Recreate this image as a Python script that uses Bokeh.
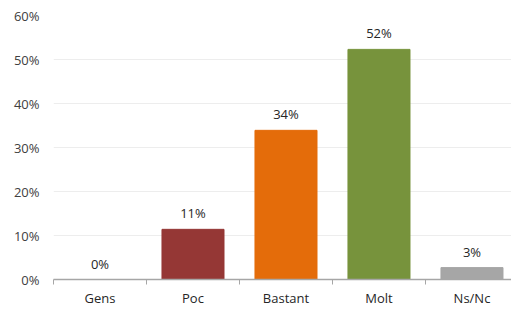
from bokeh.plotting import figure
from bokeh.models import ColumnDataSource, Range1d, FixedTicker, NumeralTickFormatter
from bokeh.core.properties import value
from bokeh.embed import file_html
from bokeh.resources import INLINE

categories = ["Gens", "Poc", "Bastant", "Molt", "Ns/Nc"]
values = [0.0, 11.4, 33.9, 52.3, 2.7]
labels = ["0%", "11%", "34%", "52%", "3%"]
colors = ["#A6A6A6", "#953735", "#E46C0A", "#77933C", "#A6A6A6"]
y_ticks = [0, 10, 20, 30, 40, 50, 60]

xs = list(range(len(categories)))
src = ColumnDataSource(dict(x=xs, top=values, label=labels, color=colors))

p = figure(width=511, height=309, output_backend="svg", toolbar_location=None,
           x_range=Range1d(-0.5, 4.425), y_range=Range1d(0, 60),
           min_border_left=53, min_border_right=0, min_border_top=15, min_border_bottom=30)
p.outline_line_color = None
p.background_fill_color = "white"

p.vbar(x="x", top="top", width=0.667, color="color", source=src)
p.text(x="x", y="top", text="label", source=src, text_align="center", text_baseline="bottom",
       y_offset=-7, text_font=value("Open Sans"), text_font_size="13px", text_color="#262626")

p.xgrid.visible = False
p.ygrid.ticker = FixedTicker(ticks=y_ticks)
p.ygrid.grid_line_color = "#EDEDED"
p.ygrid.grid_line_width = 1

p.yaxis.ticker = FixedTicker(ticks=y_ticks)
p.yaxis.formatter = NumeralTickFormatter(format="0")
p.yaxis.major_label_overrides = {t: f"{t}%" for t in y_ticks}
p.yaxis.axis_line_color = None
p.yaxis.major_tick_line_color = None
p.yaxis.minor_tick_line_color = None
p.yaxis.major_label_standoff = 8
p.yaxis.major_label_text_font = "Open Sans"
p.yaxis.major_label_text_font_size = "13px"
p.yaxis.major_label_text_color = "#404040"

p.xaxis.ticker = FixedTicker(ticks=xs, minor_ticks=[-0.5, 0.5, 1.5, 2.5, 3.5, 4.5])
p.xaxis.major_label_overrides = {i: c for i, c in enumerate(categories)}
p.xaxis.major_tick_line_color = None
p.xaxis.major_tick_out = 0
p.xaxis.major_tick_in = 0
p.xaxis.minor_tick_out = 5
p.xaxis.minor_tick_in = 0
p.xaxis.minor_tick_line_color = "#A6A6A6"
p.xaxis.axis_line_color = "#A6A6A6"
p.xaxis.axis_line_width = 1.5
p.xaxis.major_label_standoff = 4
p.xaxis.major_label_text_font = "Open Sans"
p.xaxis.major_label_text_font_size = "13px"
p.xaxis.major_label_text_color = "#262626"

open("out.html", "w").write(file_html(p, INLINE))
